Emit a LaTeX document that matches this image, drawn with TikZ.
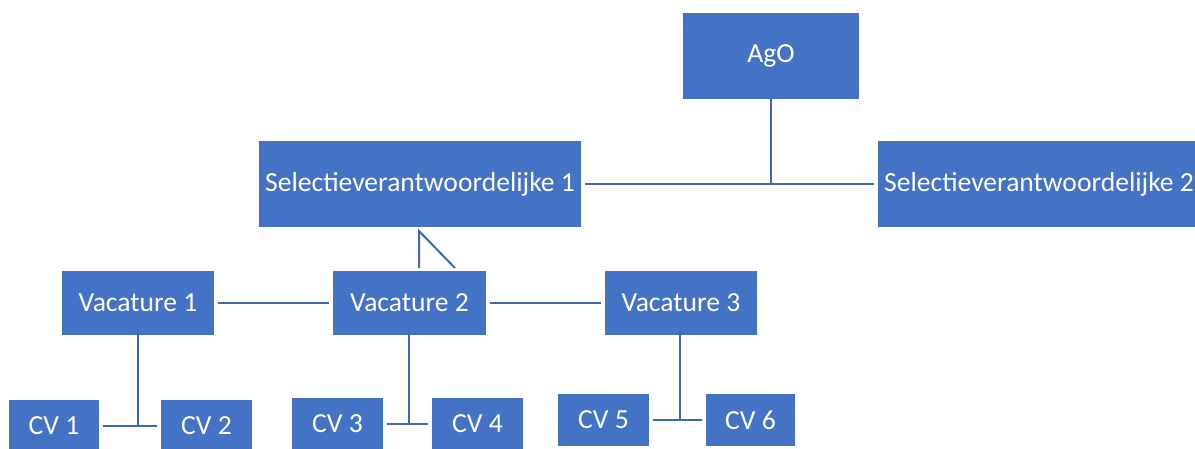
\documentclass[tikz,border=0pt]{standalone}
\usepackage{fontspec}
\setmainfont{Carlito}
\definecolor{boxblue}{HTML}{4472C4}
\definecolor{lineblue}{HTML}{3F69B6}
\tikzset{
  orgbox/.style={fill=boxblue, text=white, inner sep=0pt, font=\fontsize{27.6}{32}\selectfont},
  conn/.style={draw=lineblue, line width=2pt, shorten <=4pt, shorten >=4pt},
  connp/.style={draw=lineblue, line width=2pt}
}
\begin{document}
\begin{tikzpicture}[x=1pt,y=-1pt]
\useasboundingbox (0,0) rectangle (1195,448);
\clip (0,0) rectangle (1195,448);
\node[orgbox, minimum width=176pt, minimum height=86pt] (AgO) at (771,56) {AgO};
\node[orgbox, minimum width=322pt, minimum height=86pt] (Sel1) at (420,184) {Selectieverantwoordelijke 1};
\node[orgbox, minimum width=322pt, minimum height=86pt] (Sel2) at (1039,184) {Selectieverantwoordelijke 2};
\node[orgbox, minimum width=152pt, minimum height=64pt] (Vac1) at (138,303) {Vacature 1};
\node[orgbox, minimum width=153pt, minimum height=64pt] (Vac2) at (409.5,303) {Vacature 2};
\node[orgbox, minimum width=152pt, minimum height=64pt] (Vac3) at (681,303) {Vacature 3};
\node[orgbox, minimum width=90pt, minimum height=52pt] (CV1) at (54,426) {CV 1};
\node[orgbox, minimum width=91pt, minimum height=52pt] (CV2) at (206.5,426) {CV 2};
\node[orgbox, minimum width=91pt, minimum height=52pt] (CV3) at (337.5,424) {CV 3};
\node[orgbox, minimum width=91pt, minimum height=52pt] (CV4) at (477.5,424) {CV 4};
\node[orgbox, minimum width=91pt, minimum height=52pt] (CV5) at (603.5,420) {CV 5};
\node[orgbox, minimum width=89pt, minimum height=52pt] (CV6) at (750.5,420) {CV 6};
% top level
\coordinate (jA) at (771,184);
\draw[conn] (Sel1.east) -- (Sel2.west);
\draw[connp] ([yshift=4pt]AgO.south) -- (jA);
% Sel1 to Vacature 2
\coordinate (t1) at (419,231);
\coordinate (t2) at (419,268);
\coordinate (t3) at (455,268);
\draw[connp, line join=miter] (t2) -- (t1) -- (t3);
% Vacatures
\draw[conn] (Vac1.east) -- (Vac2.west);
\draw[conn] (Vac2.east) -- (Vac3.west);
% CVs
\coordinate (j1) at (138,426);
\draw[conn] (CV1.east) -- (CV2.west);
\draw[connp] ([yshift=4pt]Vac1.south) -- (j1);
\coordinate (j2) at (409,424);
\draw[conn] (CV3.east) -- (CV4.west);
\draw[connp] ([yshift=4pt]Vac2.south -| j2) -- (j2);
\coordinate (j3) at (680,420);
\draw[conn] (CV5.east) -- (CV6.west);
\draw[connp] ([yshift=4pt]Vac3.south -| j3) -- (j3);
\end{tikzpicture}
\end{document}
